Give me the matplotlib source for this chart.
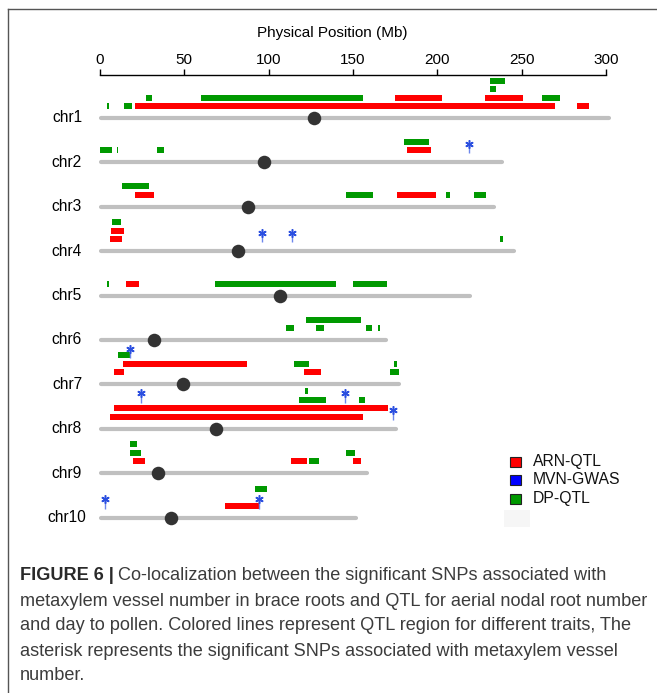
import matplotlib
matplotlib.use("Agg")
import matplotlib.pyplot as plt
from matplotlib.patches import Rectangle
from matplotlib.lines import Line2D

plt.rcParams['font.family'] = ['Liberation Sans', 'DejaVu Sans']

# ---- chromosome data (Mb) ----
chrom_names = ["chr1", "chr2", "chr3", "chr4", "chr5",
               "chr6", "chr7", "chr8", "chr9", "chr10"]
chrom_len = [302, 239, 234, 246, 220, 170, 178, 176, 159, 152]
centromere = [127, 97, 88, 82, 106.5, 32, 49.5, 68.5, 34.5, 42]

# ARN-QTL intervals: chromosome index, start, end, stacking row
arn_chr = [0, 0, 0, 0, 1, 2, 2, 3, 3, 4, 6, 6, 6, 7, 7, 8, 8, 8, 9]
arn_start = [21, 283, 175, 228, 182, 21, 176, 6, 6.5, 15.5, 8.5, 121, 13.5,
             6, 8.5, 19.5, 113, 150, 74]
arn_end = [270, 290, 203, 251, 196, 32, 199, 13, 14.5, 23, 14.5, 131, 87,
           156, 171, 26.5, 123, 154.5, 94]
arn_row = [1, 1, 2, 2, 1, 1, 1, 1, 2, 1, 1, 1, 2, 1, 2, 1, 1, 1, 1]

# DP-QTL intervals
dp_chr = [0, 0, 0, 0, 0, 0, 0,
          1, 1, 1, 1,
          2, 2, 2, 2,
          3, 3,
          4, 4, 4,
          5, 5, 5, 5, 5,
          6, 6, 6, 6,
          7, 7, 7,
          8, 8, 8, 8,
          9]
dp_start = [4, 14, 27, 60, 262, 231, 231,
            0, 10, 34, 180,
            146, 205, 222, 13,
            237, 7,
            4, 68, 150,
            110, 128, 158, 165, 122,
            172, 115, 174.5, 10.5,
            118, 153.5, 121.5,
            124, 17.7, 146, 18,
            92]
dp_end = [5.2, 19, 31, 156, 273, 235, 240,
          7, 10.8, 38, 195,
          162, 207.5, 229, 29,
          239, 12.5,
          5.5, 140, 170,
          115, 133, 161, 165.8, 155,
          177, 124, 176, 17.5,
          134, 157, 123.5,
          130, 24.5, 151, 22,
          99]
dp_row = [1, 1, 2, 2, 2, 3, 4,
          1, 1, 1, 2,
          1, 1, 1, 2,
          1, 3,
          1, 1, 1,
          1, 1, 1, 1, 2,
          1, 2, 2, 3,
          3, 3, 4,
          1, 2, 2, 3,
          3]

# MVN-GWAS significant SNPs
mvn_chr = [1, 3, 3, 6, 7, 7, 7, 9, 9]
mvn_pos = [218.5, 96, 114, 18, 24.5, 145, 174, 3, 94]
mvn_row = [1, 1, 1, 3, 3, 3, 1, 1, 1]

RED = "#FF0000"
GREEN = "#009900"
BLUE = "#2B4FE0"

W, H = 657, 693
fig = plt.figure(figsize=(W / 100, H / 100), dpi=100)
fig.patch.set_facecolor("white")


def fx(x):
    return x / W


def fy(y):
    return 1 - y / H


# axes in pixel-row units on y (inverted)
top_px, bot_px = 75, 545
ax = fig.add_axes([fx(100), fy(bot_px), fx(606) - fx(100), fy(top_px) - fy(bot_px)])
ax.set_xlim(0, 300)
ax.set_ylim(bot_px, top_px)

chr_y = [118 + 44.4 * i for i in range(len(chrom_names))]


def row_y(ci, row):
    return chr_y[ci] - (12 + 8.5 * (row - 1))


BAR_H = 6

# chromosome backbones and centromeres
for i, L in enumerate(chrom_len):
    ax.plot([0.5, L - 0.5], [chr_y[i], chr_y[i]], color="#C0C0C0", lw=3.0,
            solid_capstyle="round", zorder=1, clip_on=False)
ax.scatter(centromere, chr_y, s=95, color="#333333", zorder=4, clip_on=False,
           linewidths=0)

# QTL intervals
ax.barh([row_y(c, r) for c, r in zip(arn_chr, arn_row)],
        [e - s for s, e in zip(arn_start, arn_end)], left=arn_start,
        height=BAR_H, color=RED, zorder=2, clip_on=False)
ax.barh([row_y(c, r) for c, r in zip(dp_chr, dp_row)],
        [e - s for s, e in zip(dp_start, dp_end)], left=dp_start,
        height=BAR_H, color=GREEN, zorder=2, clip_on=False)

# significant SNPs: stem plus asterisk
for c, p, r in zip(mvn_chr, mvn_pos, mvn_row):
    yb = row_y(c, r) + BAR_H / 2
    ys = row_y(c, r) - 6.5
    ax.plot([p, p], [yb, ys], color="#6D87EC", lw=1.0, zorder=3,
            solid_capstyle="butt", clip_on=False)
    ax.plot([p], [ys], marker=(6, 2, 0), ms=6, mew=1.1, color=BLUE,
            zorder=5, clip_on=False)

# top position axis
for s in ["left", "right", "bottom"]:
    ax.spines[s].set_visible(False)
ax.spines["top"].set_bounds(0, 300)
ax.spines["top"].set_linewidth(1.0)
ax.xaxis.tick_top()
ax.set_xticks([0, 50, 100, 150, 200, 250, 300])
ax.tick_params(axis="x", direction="out", length=4, width=1, labelsize=11, pad=2)
ax.set_yticks([])
ax.patch.set_alpha(0)

fig.text(fx(332), fy(33), "Physical Position (Mb)", ha="center", va="center",
         fontsize=11)

for i, name in enumerate(chrom_names):
    fig.text(fx(67), fy(chr_y[i]), name, ha="center", va="center", fontsize=11.2)

# legend
legend_items = [("ARN-QTL", RED, 461.5), ("MVN-GWAS", "#0000FF", 479.5),
                ("DP-QTL", GREEN, 498.5)]
for label, col, yc in legend_items:
    fig.add_artist(Rectangle((fx(509.5), fy(yc + 5)), fx(11), 10 / H,
                             facecolor=col, edgecolor="#222222", lw=0.8,
                             transform=fig.transFigure))
    fig.text(fx(533), fy(yc), label, ha="left", va="center", fontsize=11.3,
             color="#111111")
fig.add_artist(Rectangle((fx(504), fy(527)), fx(26), 17 / H,
                         facecolor="#F6F6F6", edgecolor="none",
                         transform=fig.transFigure))

# frame lines
fig.add_artist(Line2D([fx(8), fx(8)], [fy(8.5), 0], color="#555555", lw=1.0))
fig.add_artist(Line2D([fx(8), 1], [fy(8.5), fy(8.5)], color="#555555", lw=1.0))

# caption
cap_size = 13.1
cap_color = "#3C3C3C"
cap_x = 20
cap_lines_y = [576, 601, 626, 651, 676]
bold = fig.text(fx(cap_x), fy(cap_lines_y[0]), "FIGURE 6 |", ha="left",
                va="center", fontsize=cap_size, fontweight="bold",
                color="#2A2A2A")
fig.canvas.draw()
bb = bold.get_window_extent(renderer=fig.canvas.get_renderer())
fig.text(fx(cap_x) + (bb.width + 4) / W, fy(cap_lines_y[0]),
         "Co-localization between the significant SNPs associated with",
         ha="left", va="center", fontsize=cap_size, color=cap_color)
rest = ["metaxylem vessel number in brace roots and QTL for aerial nodal root number",
        "and day to pollen. Colored lines represent QTL region for different traits, The",
        "asterisk represents the significant SNPs associated with metaxylem vessel",
        "number."]
for yv, line in zip(cap_lines_y[1:], rest):
    fig.text(fx(cap_x), fy(yv), line, ha="left", va="center", fontsize=cap_size,
             color=cap_color)

fig.savefig("out.png", dpi=100)
